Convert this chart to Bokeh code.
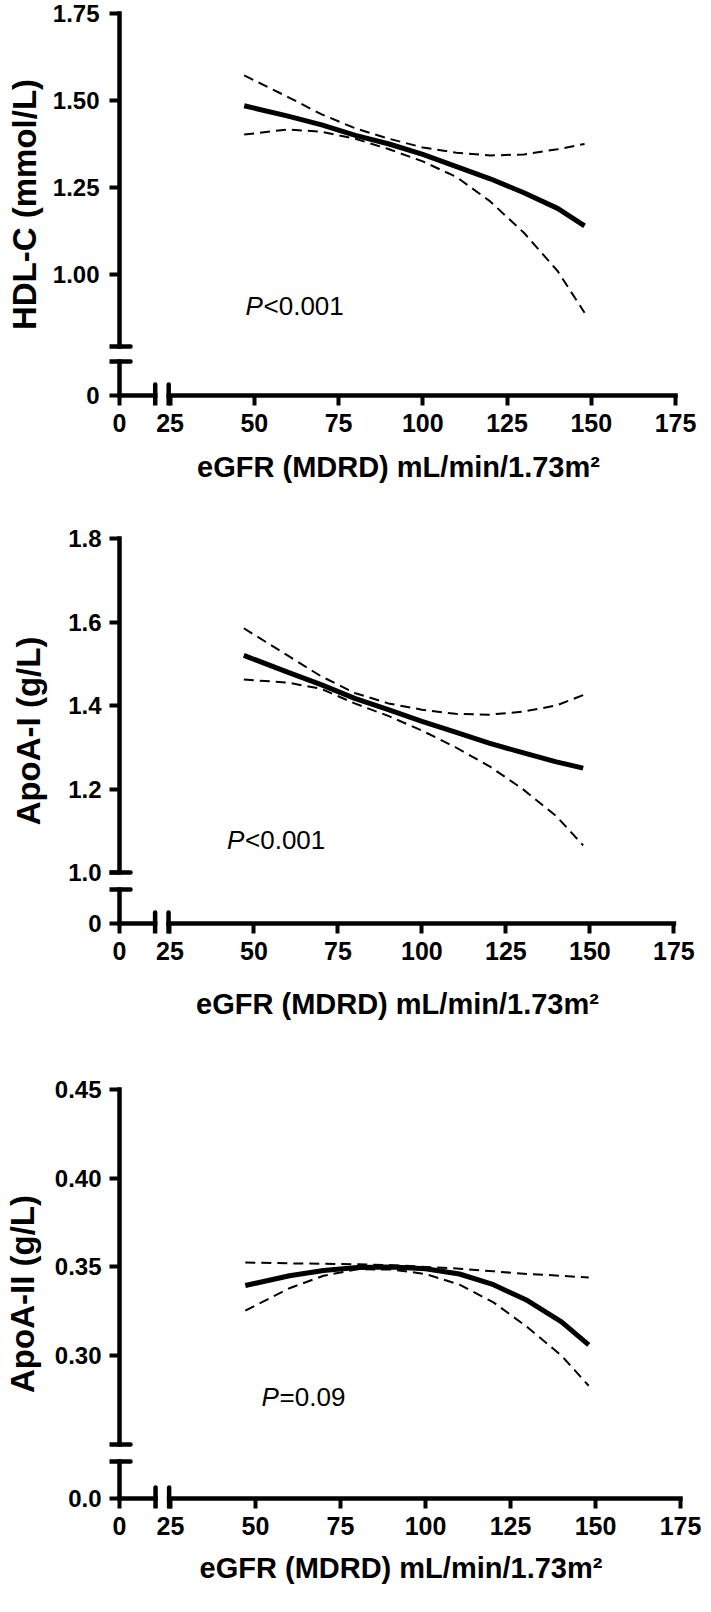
from bokeh.plotting import figure
from bokeh.layouts import column
from bokeh.models import FixedTicker, Range1d
from bokeh.core.properties import value
from bokeh.embed import file_html
from bokeh.resources import INLINE

FONT = "Liberation Sans"

# ---------------- data ----------------
egfr = [47, 60, 70, 80, 90, 100, 110, 120, 130, 140, 148]

hdl_fit = [1.485, 1.455, 1.43, 1.40, 1.375, 1.345, 1.31, 1.275, 1.235, 1.19, 1.14]
hdl_upper = [1.572, 1.51, 1.46, 1.42, 1.39, 1.365, 1.35, 1.342, 1.345, 1.36, 1.375]
hdl_lower = [1.402, 1.417, 1.41, 1.39, 1.36, 1.325, 1.28, 1.21, 1.12, 1.01, 0.89]

apoa1_fit = [1.52, 1.48, 1.45, 1.417, 1.39, 1.362, 1.336, 1.31, 1.287, 1.265, 1.25]
apoa1_upper = [1.585, 1.52, 1.47, 1.43, 1.405, 1.39, 1.38, 1.378, 1.385, 1.40, 1.425]
apoa1_lower = [1.462, 1.455, 1.44, 1.405, 1.375, 1.34, 1.30, 1.255, 1.20, 1.135, 1.065]

apoa2_fit = [0.3395, 0.345, 0.348, 0.3497, 0.350, 0.349, 0.346, 0.340, 0.331, 0.319, 0.306]
apoa2_upper = [0.3525, 0.352, 0.3518, 0.3515, 0.351, 0.350, 0.349, 0.3475, 0.346, 0.345, 0.344]
apoa2_lower = [0.3254, 0.338, 0.345, 0.3487, 0.3485, 0.346, 0.340, 0.330, 0.316, 0.300, 0.283]

x_ticks = [0, 25, 50, 75, 100, 125, 150, 175]
x_tick_labels = ["0", "25", "50", "75", "100", "125", "150", "175"]
x_label = "eGFR (MDRD) mL/min/1.73m\u00b2"

hdl_yticks = [0, 1.00, 1.25, 1.50, 1.75]
hdl_ytick_labels = ["0", "1.00", "1.25", "1.50", "1.75"]
apoa1_yticks = [0, 1.0, 1.2, 1.4, 1.6, 1.8]
apoa1_ytick_labels = ["0", "1.0", "1.2", "1.4", "1.6", "1.8"]
apoa2_yticks = [0, 0.30, 0.35, 0.40, 0.45]
apoa2_ytick_labels = ["0.0", "0.30", "0.35", "0.40", "0.45"]

y_labels = ["HDL-C (mmol/L)", "ApoA-I (g/L)", "ApoA-II (g/L)"]
p_texts = [("P", "<0.001"), ("P", "<0.001"), ("P", "=0.09")]
p_x = [47.4, 42.0, 51.8]
p_y = [0.909, 1.077, 0.2764]

# broken x axis: eGFR 0 is drawn at virtual position X0V
X0V = 10.0
X_BREAKS = (20.6, 24.6)


def make_panel(ylabel, yticks, ytick_labels, fit, lower, upper, ptxt, px, py,
               ax_x, px_x, top_val, top_py, px_y, ax_py, brk_hi_py, brk_lo_py,
               canvas_top, canvas_bottom, ylab_sd, ytick_sd, xlab_sd, xtick_sd):
    def yv(pg):
        return top_val - (pg - top_py) / px_y

    frame_left = ax_x - 10
    x175 = ax_x + (175 - X0V) * px_x
    frame_right = round(x175 + 12)
    frame_top = max(canvas_top, top_py - 10)
    frame_bottom = ax_py + 10
    x_start = X0V - (ax_x - frame_left) / px_x
    x_end = 175 + (frame_right - x175) / px_x
    y0v, y_hi, y_lo = yv(ax_py), yv(brk_hi_py), yv(brk_lo_py)

    p = figure(frame_width=int(frame_right - frame_left),
               frame_height=int(frame_bottom - frame_top),
               x_range=Range1d(x_start, x_end),
               y_range=Range1d(yv(frame_bottom), yv(frame_top)),
               min_border_left=int(frame_left - 8),
               min_border_right=int(711 - frame_right),
               min_border_top=int(frame_top - canvas_top),
               min_border_bottom=int(canvas_bottom - frame_bottom),
               output_backend="svg", toolbar_location=None,
               background_fill_color="white", border_fill_color="white",
               outline_line_color=None)
    p.grid.visible = False

    # axis lines with breaks
    lw = 4.5
    p.segment(x0=[X0V, X0V], y0=[y0v, y_hi], x1=[X0V, X0V], y1=[y_lo, top_val],
              line_width=lw, line_color="black", line_cap="square")
    p.segment(x0=[X0V, X_BREAKS[1]], y0=[y0v, y0v], x1=[X_BREAKS[0], 175], y1=[y0v, y0v],
              line_width=lw, line_color="black", line_cap="square")
    dx = 11 / px_x
    dy = 11 / px_y
    p.segment(x0=[X0V - dx, X0V - dx], y0=[y_hi, y_lo], x1=[X0V + dx, X0V + dx], y1=[y_hi, y_lo],
              line_width=lw, line_color="black", line_cap="round")
    p.segment(x0=list(X_BREAKS), y0=[y0v - dy] * 2, x1=list(X_BREAKS), y1=[y0v + dy] * 2,
              line_width=lw, line_color="black", line_cap="round")

    # curves
    p.line(egfr, upper, line_width=2, line_color="black", line_dash="10 6")
    p.line(egfr, lower, line_width=2, line_color="black", line_dash="10 6")
    p.line(egfr, fit, line_width=5, line_color="black", line_join="round")

    # P value
    p.text(x=[px], y=[py], text=[ptxt[0]], text_font=value(FONT), text_font_style="italic",
           text_font_size="26px", text_baseline="middle", text_align="left", text_color="black")
    p.text(x=[px], y=[py], text=[ptxt[1]], x_offset=18, text_font=value(FONT),
           text_font_size="26px", text_baseline="middle", text_align="left", text_color="black")

    # axes
    xv_ticks = [X0V if t == 0 else float(t) for t in x_ticks]
    yv_ticks = [y0v if t == 0 else float(t) for t in yticks]
    xa, ya = p.xaxis[0], p.yaxis[0]
    xa.ticker = FixedTicker(ticks=xv_ticks, minor_ticks=[])
    ya.ticker = FixedTicker(ticks=yv_ticks, minor_ticks=[])
    xa.major_label_overrides = {t: l for t, l in zip(xv_ticks, x_tick_labels)}
    ya.major_label_overrides = {t: l for t, l in zip(yv_ticks, ytick_labels)}
    for ax in (xa, ya):
        ax.axis_line_color = None
        ax.major_tick_line_width = 4
        ax.major_tick_line_color = "black"
        ax.major_tick_in = 10
        ax.major_tick_out = 0
        ax.minor_tick_line_color = None
        ax.major_label_text_font = FONT
        ax.major_label_text_font_style = "bold"
        ax.major_label_text_color = "black"
        ax.axis_label_text_font = FONT
        ax.axis_label_text_font_style = "bold"
        ax.axis_label_text_color = "black"
    xa.major_label_text_font_size = "25px"
    ya.major_label_text_font_size = "24px"
    xa.major_label_standoff = xtick_sd
    ya.major_label_standoff = ytick_sd
    xa.axis_label = x_label
    ya.axis_label = ylabel
    xa.axis_label_text_font_size = "29px"
    ya.axis_label_text_font_size = "33px"
    xa.axis_label_standoff = xlab_sd
    ya.axis_label_standoff = ylab_sd
    return p


p1 = make_panel(y_labels[0], hdl_yticks, hdl_ytick_labels, hdl_fit, hdl_lower, hdl_upper,
                p_texts[0], p_x[0], p_y[0],
                ax_x=122, px_x=3.37, top_val=1.75, top_py=21, px_y=348, ax_py=403,
                brk_hi_py=354, brk_lo_py=369, canvas_top=8, canvas_bottom=500,
                ylab_sd=7, ytick_sd=10, xlab_sd=16, xtick_sd=8)
p2 = make_panel(y_labels[1], apoa1_yticks, apoa1_ytick_labels, apoa1_fit, apoa1_lower, apoa1_upper,
                p_texts[1], p_x[1], p_y[1],
                ax_x=120, px_x=3.36, top_val=1.8, top_py=546, px_y=417.5, ax_py=931,
                brk_hi_py=880, brk_lo_py=897, canvas_top=500, canvas_bottom=1043,
                ylab_sd=18, ytick_sd=8, xlab_sd=25, xtick_sd=8)
p3 = make_panel(y_labels[2], apoa2_yticks, apoa2_ytick_labels, apoa2_fit, apoa2_lower, apoa2_upper,
                p_texts[2], p_x[2], p_y[2],
                ax_x=126, px_x=3.4, top_val=0.45, top_py=1097, px_y=1774, ax_py=1506,
                brk_hi_py=1452, brk_lo_py=1469, canvas_top=1043, canvas_bottom=1604,
                ylab_sd=11, ytick_sd=8, xlab_sd=14, xtick_sd=8)

layout = column(p1, p2, p3)
open("out.html", "w").write(file_html(layout, INLINE))
